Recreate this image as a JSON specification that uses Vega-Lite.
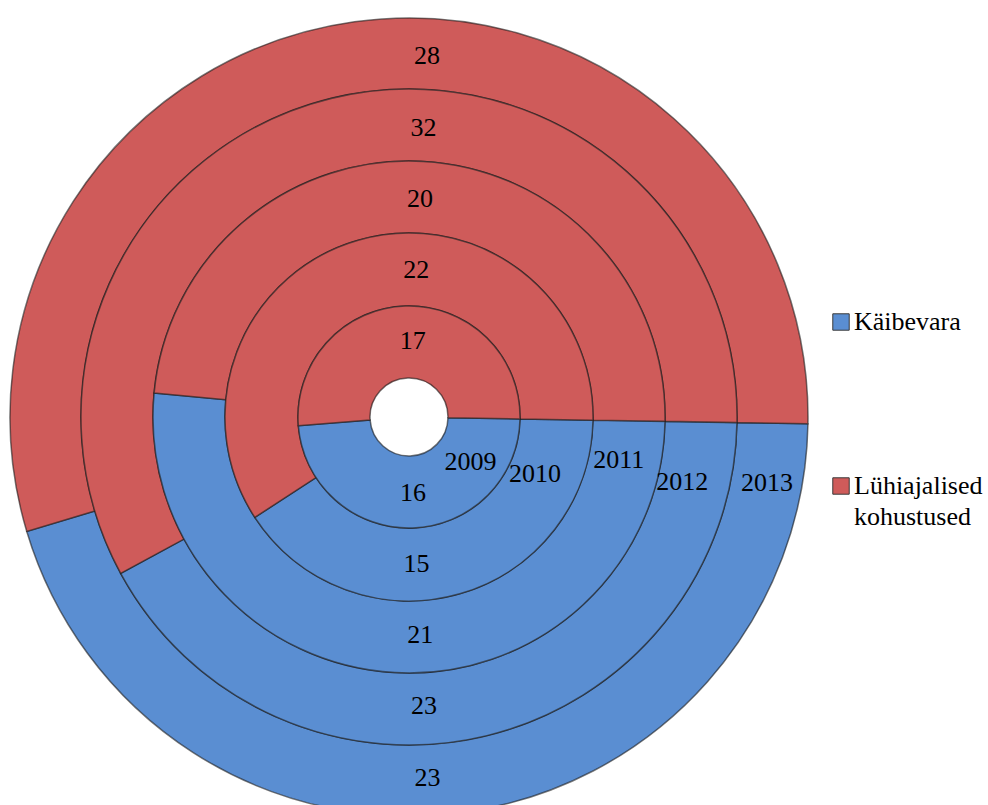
{
  "$schema": "https://vega.github.io/schema/vega-lite/v6.json",
  "width": 818,
  "height": 790,
  "padding": {"left": 0, "top": 15, "right": 0, "bottom": 0},
  "autosize": {"type": "pad"},
  "background": "white",
  "config": {
    "view": {"stroke": null},
    "font": "Liberation Serif, Times New Roman, serif",
    "style": {"guide-label": {"lineHeight": 31}}
  },
  "data": {
    "values": [
      {"year": 2009, "category": "Käibevara", "value": 16},
      {"year": 2009, "category": "Lühiajalised kohustused", "value": 17},
      {"year": 2010, "category": "Käibevara", "value": 15},
      {"year": 2010, "category": "Lühiajalised kohustused", "value": 22},
      {"year": 2011, "category": "Käibevara", "value": 21},
      {"year": 2011, "category": "Lühiajalised kohustused", "value": 20},
      {"year": 2012, "category": "Käibevara", "value": 23},
      {"year": 2012, "category": "Lühiajalised kohustused", "value": 32},
      {"year": 2013, "category": "Käibevara", "value": 23},
      {"year": 2013, "category": "Lühiajalised kohustused", "value": 28}
    ]
  },
  "encoding": {
    "color": {
      "field": "category",
      "type": "nominal",
      "scale": {
        "domain": ["Käibevara", "Lühiajalised kohustused"],
        "range": ["#5A8ED2", "#CF5B5A"]
      },
      "legend": {
        "title": null,
        "orient": "none",
        "legendX": 828,
        "legendY": 287,
        "padding": 0,
        "symbolType": "square",
        "symbolSize": 270,
        "symbolStrokeColor": "#3a3a3a",
        "symbolStrokeWidth": 1,
        "symbolOpacity": 1,
        "labelFont": "Liberation Serif, Times New Roman, serif",
        "labelFontSize": 26,
        "labelColor": "black",
        "labelOffset": 0,
        "labelLimit": 0,
        "rowPadding": 138,
        "labelExpr": "datum.label == 'Lühiajalised kohustused' ? ['Lühiajalised', 'kohustused'] : datum.label"
      }
    }
  },
  "layer": [
    {
      "transform": [{"filter": "datum.year == 2013"}],
      "mark": {"type": "arc", "outerRadius": 399, "innerRadius": 328, "stroke": "#1a1a1a", "strokeOpacity": 0.6, "strokeWidth": 1.5},
      "encoding": {
        "theta": {"field": "value", "type": "quantitative", "stack": "normalize", "scale": {"range": [1.588, 7.871]}},
        "order": {"field": "category"}
      }
    },
    {
      "transform": [{"filter": "datum.year == 2012"}],
      "mark": {"type": "arc", "outerRadius": 328, "innerRadius": 256, "stroke": "#1a1a1a", "strokeOpacity": 0.6, "strokeWidth": 1.5},
      "encoding": {
        "theta": {"field": "value", "type": "quantitative", "stack": "normalize", "scale": {"range": [1.588, 7.871]}},
        "order": {"field": "category"}
      }
    },
    {
      "transform": [{"filter": "datum.year == 2011"}],
      "mark": {"type": "arc", "outerRadius": 256, "innerRadius": 184, "stroke": "#1a1a1a", "strokeOpacity": 0.6, "strokeWidth": 1.5},
      "encoding": {
        "theta": {"field": "value", "type": "quantitative", "stack": "normalize", "scale": {"range": [1.588, 7.871]}},
        "order": {"field": "category"}
      }
    },
    {
      "transform": [{"filter": "datum.year == 2010"}],
      "mark": {"type": "arc", "outerRadius": 184, "innerRadius": 111, "stroke": "#1a1a1a", "strokeOpacity": 0.6, "strokeWidth": 1.5},
      "encoding": {
        "theta": {"field": "value", "type": "quantitative", "stack": "normalize", "scale": {"range": [1.588, 7.871]}},
        "order": {"field": "category"}
      }
    },
    {
      "transform": [{"filter": "datum.year == 2009"}],
      "mark": {"type": "arc", "outerRadius": 111, "innerRadius": 39, "stroke": "#1a1a1a", "strokeOpacity": 0.6, "strokeWidth": 1.5},
      "encoding": {
        "theta": {"field": "value", "type": "quantitative", "stack": "normalize", "scale": {"range": [1.588, 7.871]}},
        "order": {"field": "category"}
      }
    },
    {
      "mark": {"type": "text", "font": "Liberation Serif, Times New Roman, serif", "fontSize": 26, "align": "center", "baseline": "middle"},
      "encoding": {
        "theta": {
          "field": "category",
          "type": "nominal",
          "scale": {"type": "point", "domain": ["Lühiajalised kohustused", "Käibevara"], "range": [0.05, 3.09], "padding": 0}
        },
        "radius": {
          "field": "year",
          "type": "ordinal",
          "scale": {"type": "point", "domain": [2009, 2010, 2011, 2012, 2013], "range": [76, 361], "padding": 0}
        },
        "text": {"field": "value", "type": "quantitative"},
        "color": {"value": "black"}
      }
    },
    {
      "transform": [{"filter": "datum.category == 'Käibevara'"}],
      "mark": {"type": "text", "font": "Liberation Serif, Times New Roman, serif", "fontSize": 26, "align": "center", "baseline": "middle"},
      "encoding": {
        "theta": {
          "field": "year",
          "type": "quantitative",
          "stack": null,
          "scale": {"type": "linear", "domain": [2009, 2010, 2011, 2012, 2013], "range": [2.201, 1.993, 1.772, 1.805, 1.752], "zero": false, "nice": false}
        },
        "radius": {
          "field": "year",
          "type": "quantitative",
          "scale": {"type": "linear", "domain": [2009, 2010, 2011, 2012, 2013], "range": [76, 138, 214, 281, 364], "zero": false, "nice": false}
        },
        "text": {"field": "year", "type": "nominal"},
        "color": {"value": "black"}
      }
    }
  ],
  "resolve": {"scale": {"theta": "independent", "radius": "independent"}}
}
